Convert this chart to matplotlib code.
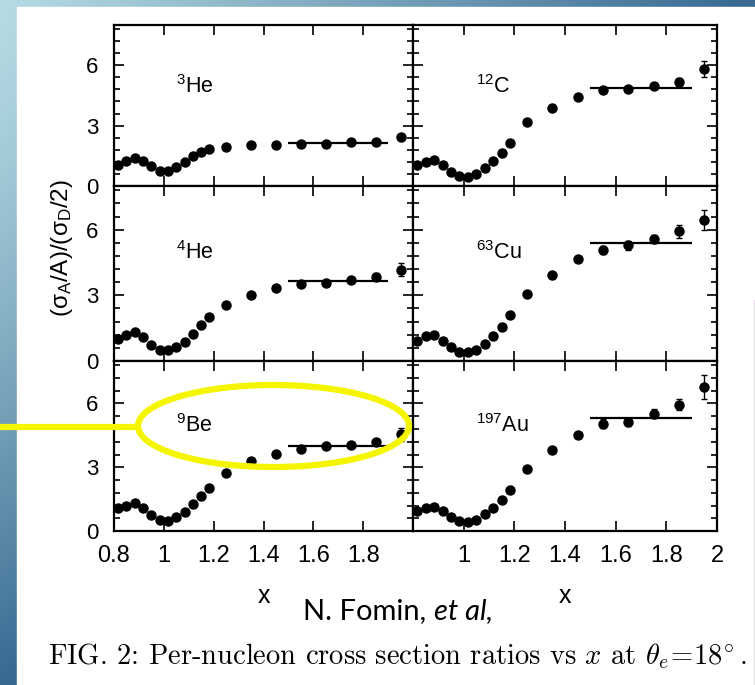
import matplotlib.pyplot as plt
import numpy as np
from matplotlib.patches import Ellipse, Rectangle
from matplotlib.ticker import MultipleLocator

plt.rcParams['font.family'] = 'Liberation Sans'
plt.rcParams['mathtext.fontset'] = 'custom'
plt.rcParams['mathtext.rm'] = 'Liberation Sans'
plt.rcParams['mathtext.it'] = 'Liberation Sans:italic'
plt.rcParams['mathtext.sf'] = 'Liberation Sans'

# Bjorken x bins
x = [0.817, 0.85, 0.883, 0.917, 0.95, 0.983, 1.017, 1.05, 1.083, 1.117,
     1.15, 1.183, 1.25, 1.35, 1.45, 1.55, 1.65, 1.75, 1.85, 1.95]

# per-nucleon ratios (sigma_A/A)/(sigma_D/2) and their errors
he3 = [1.05, 1.22, 1.38, 1.22, 0.97, 0.77, 0.77, 0.93, 1.18, 1.47,
       1.68, 1.85, 1.93, 2.02, 2.05, 2.10, 2.10, 2.17, 2.18, 2.42]
he3_err = [0.03] * 15 + [0.05, 0.05, 0.06, 0.07, 0.15]

c12 = [1.02, 1.18, 1.28, 1.03, 0.70, 0.52, 0.47, 0.62, 0.90, 1.25,
       1.65, 2.12, 3.18, 3.88, 4.42, 4.75, 4.83, 4.97, 5.17, 5.80]
c12_err = [0.03] * 12 + [0.05, 0.07, 0.10, 0.12, 0.13, 0.15, 0.22, 0.40]

he4 = [1.00, 1.20, 1.31, 1.11, 0.74, 0.51, 0.48, 0.65, 0.89, 1.25,
       1.65, 2.02, 2.54, 3.03, 3.34, 3.54, 3.57, 3.72, 3.85, 4.18]
he4_err = [0.03] * 14 + [0.07, 0.08, 0.10, 0.12, 0.16, 0.30]

cu63 = [0.92, 1.12, 1.20, 0.92, 0.65, 0.43, 0.40, 0.51, 0.77, 1.14,
        1.54, 2.08, 3.06, 3.95, 4.66, 5.08, 5.28, 5.58, 5.92, 6.45]
cu63_err = [0.03] * 13 + [0.06, 0.10, 0.17, 0.20, 0.20, 0.28, 0.46]

be9 = [1.06, 1.20, 1.30, 1.08, 0.73, 0.53, 0.48, 0.66, 0.91, 1.25,
       1.64, 2.03, 2.73, 3.30, 3.61, 3.88, 3.98, 4.05, 4.19, 4.55]
be9_err = [0.03] * 14 + [0.07, 0.10, 0.12, 0.12, 0.16, 0.30]

au197 = [0.94, 1.09, 1.14, 0.94, 0.66, 0.45, 0.42, 0.53, 0.78, 1.09,
         1.48, 1.95, 2.94, 3.80, 4.50, 5.05, 5.13, 5.52, 5.95, 6.77]
au197_err = [0.03] * 13 + [0.12, 0.12, 0.22, 0.20, 0.20, 0.27, 0.55]

labels = [r'$^{3}$He', r'$^{12}$C', r'$^{4}$He', r'$^{63}$Cu', r'$^{9}$Be', r'$^{197}$Au']
values = [he3, c12, he4, cu63, be9, au197]
errors = [he3_err, c12_err, he4_err, cu63_err, be9_err, au197_err]
plateaus = [2.13, 4.88, 3.65, 5.40, 4.00, 5.33]
plateau_range = (1.5, 1.9)

W, H = 755, 685
fig = plt.figure(figsize=(W / 100, H / 100), dpi=100)

# slide background: blue gradient frame around a white page
ax_bg = fig.add_axes([0, 0, 1, 1], zorder=0)
yy, xx = np.mgrid[0:H, 0:W]
s = np.clip(xx / W + (yy / H) ** 1.3, 0, 1)
light = np.array([182, 220, 228]) / 255
dark = np.array([55, 105, 145]) / 255
ax_bg.imshow(light + s[..., None] * (dark - light), extent=(0, W, H, 0), aspect='auto')
ax_bg.add_patch(Rectangle((17, 7), 737, H - 7, color='white'))
ax_bg.plot([754.5, 754.5], [300, H], color='#7a4a86', lw=1)
ax_bg.set_xlim(0, W)
ax_bg.set_ylim(H, 0)
ax_bg.axis('off')

# panel boxes in pixels: (left, top, right, bottom)
cols = [(114, 413), (413, 717)]
rows = [(25, 186), (186, 361), (361, 531)]

for i in range(6):
    r, c = divmod(i, 2)
    x0, x1 = cols[c]
    y0, y1 = rows[r]
    ax = fig.add_axes([x0 / W, 1 - y1 / H, (x1 - x0) / W, (y1 - y0) / H], zorder=1)
    ax.errorbar(x, values[i], yerr=errors[i], fmt='o', color='black', ms=6.5,
                capsize=2.5, elinewidth=1.0, capthick=1.0)
    ax.hlines(plateaus[i], *plateau_range, color='black', lw=1.6)
    ax.text(1.05, 4.95, labels[i], fontsize=15.5, va='center', ha='left')

    ax.set_xlim(0.8, 2.0)
    ax.set_ylim(0, 8)
    ax.xaxis.set_major_locator(MultipleLocator(0.2))
    ax.yaxis.set_major_locator(MultipleLocator(3))
    ax.yaxis.set_minor_locator(MultipleLocator(0.6))
    ax.tick_params(which='both', direction='in', top=True, right=True, width=1.2)
    ax.tick_params(which='major', length=7)
    ax.tick_params(which='minor', length=4)
    ax.tick_params(axis='y', labelsize=16, pad=11)
    ax.tick_params(axis='x', labelsize=17, pad=10)
    for sp in ax.spines.values():
        sp.set_linewidth(1.6)

    if c == 1:
        ax.set_yticklabels([])
    else:
        ax.set_yticks([0, 3, 6], ['0', '3', '6'])
    if r < 2:
        ax.set_xticklabels([])
    else:
        ticks = [0.8, 1.0, 1.2, 1.4, 1.6, 1.8, 2.0]
        tl = ['0.8', '1', '1.2', '1.4', '1.6', '1.8', '2']
        if c == 0:
            tl[-1] = ''
        else:
            tl[0] = ''
        ax.set_xticks(ticks, tl)
        ax.set_xlabel('x', fontsize=18)
        ax.xaxis.set_label_coords(0.5, -0.38)
        ax.xaxis.label.set_va('center')

fig.text(62 / W, 1 - 248 / H, r'(σ$_\mathrm{A}$/A)/(σ$_\mathrm{D}$/2)',
         rotation=90, ha='center', va='center', fontsize=17.5)

# annotation layer in pixel coordinates
ax_ov = fig.add_axes([0, 0, 1, 1], zorder=5)
ax_ov.patch.set_visible(False)
ax_ov.set_xlim(0, W)
ax_ov.set_ylim(H, 0)
ax_ov.axis('off')
ax_ov.add_patch(Ellipse((273.5, 426), 271, 82, fill=False, ec='#f5f500', lw=4.5))
ax_ov.plot([0, 136], [427, 427], color='#f5f500', lw=4.5, solid_capstyle='butt')

t1 = ax_ov.text(303, 619, 'N. Fomin, ', fontsize=21, family='Lato',
                ha='left', va='baseline')
ax_ov.annotate('et al,', xy=(1, 0), xycoords=t1, fontsize=21, family='Lato',
               style='italic', ha='left', va='bottom')
ax_ov.text(48, 664, r'FIG. 2: Per-nucleon cross section ratios vs $x$ at $\theta_e\!=\!18^{\!\circ}$.',
           fontsize=20.5, family='cmr10', math_fontfamily='cm', ha='left', va='baseline')

fig.savefig('out.png', dpi=100)
